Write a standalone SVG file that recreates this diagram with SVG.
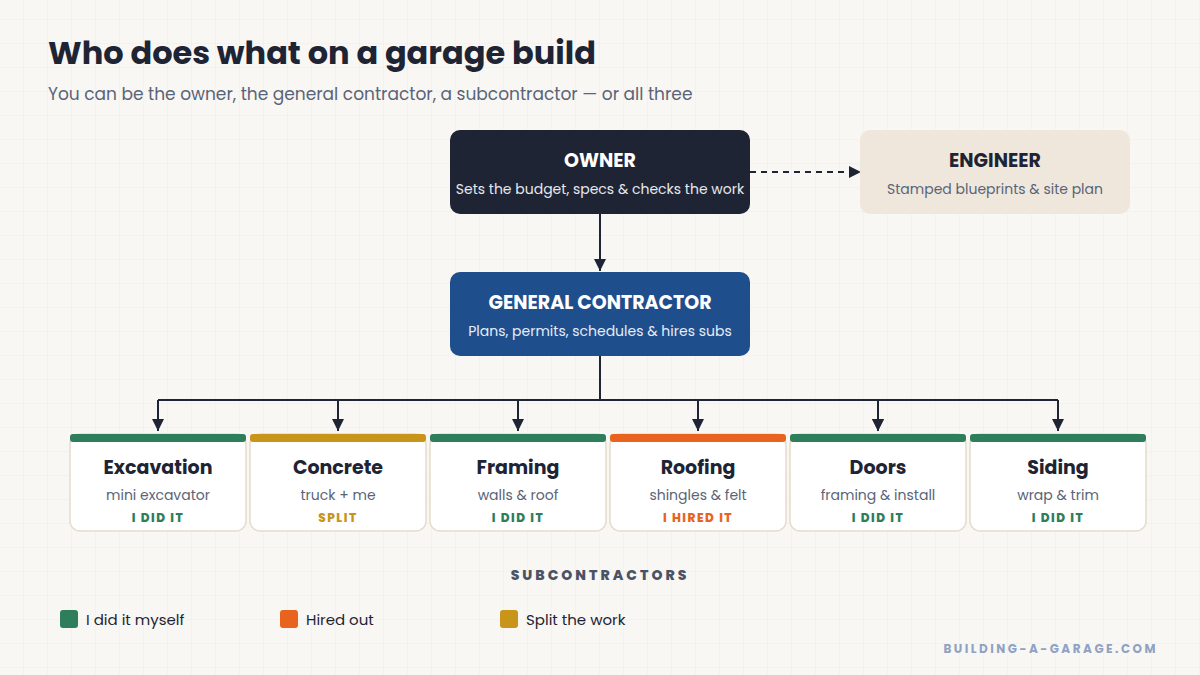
<svg xmlns="http://www.w3.org/2000/svg" width="1200" height="675" viewBox="0 0 1200 675">
<defs>
<pattern id="grid" width="24" height="24" patternUnits="userSpaceOnUse" x="0" y="-4"><path d="M24 0V24M0 24H24" fill="none" stroke="#efece6" stroke-width="1"/></pattern>
<marker id="ah" markerWidth="14" markerHeight="14" refX="12" refY="6" orient="auto" markerUnits="userSpaceOnUse"><path d="M0 0L12 6L0 12Z" fill="#1e2433"/></marker>
<style>
text{font-family:Poppins,Inter,"Noto Sans",sans-serif}
.t{font-weight:700;font-size:19px;fill:#1e2433;text-anchor:middle}
.s{font-size:14px;fill:#5a6478;text-anchor:middle}
.b{font-weight:800;font-size:12px;letter-spacing:1.5px;text-anchor:middle}
.card{fill:#fff;stroke:#e6dccb;stroke-width:1.5}
.c{fill:none;stroke:#1e2433;stroke-width:2}
</style>
</defs>
<rect width="1200" height="675" fill="#f9f7f3"/>
<rect width="1200" height="675" fill="url(#grid)"/>
<text x="48" y="64" font-size="32" font-weight="700" fill="#1e2433">Who does what on a garage build</text>
<text x="48" y="100" font-size="17" fill="#5a6478">You can be the owner, the general contractor, a subcontractor — or all three</text>
<g id="connectors">
<path class="c" d="M600 214V271" marker-end="url(#ah)"/>
<path class="c" d="M750 172H861" stroke-dasharray="6 5" marker-end="url(#ah)"/>
<path class="c" d="M600 356V400M158 400H1058M158 400V431M338 400V431M518 400V431M698 400V431M878 400V431M1058 400V431" marker-end="url(#ah)"/>
<path class="c" d="M158 400V431M338 400V431M518 400V431M698 400V431M878 400V431" marker-end="url(#ah)"/>
<path class="c" d="M158 400V431" marker-end="url(#ah)"/><path class="c" d="M338 400V431" marker-end="url(#ah)"/><path class="c" d="M518 400V431" marker-end="url(#ah)"/><path class="c" d="M698 400V431" marker-end="url(#ah)"/><path class="c" d="M878 400V431" marker-end="url(#ah)"/>
</g>
<g id="owner"><rect x="450" y="130" width="300" height="84" rx="10" fill="#1e2433"/>
<text x="600" y="167" font-size="19" font-weight="700" fill="#fff" text-anchor="middle">OWNER</text>
<text x="600" y="194" font-size="14" fill="#e6e8ee" text-anchor="middle">Sets the budget, specs &amp; checks the work</text></g>
<g id="engineer"><rect x="860" y="130" width="270" height="84" rx="10" fill="#efe7dc"/>
<text x="995" y="167" font-size="19" font-weight="700" fill="#1e2433" text-anchor="middle">ENGINEER</text>
<text x="995" y="194" font-size="14" fill="#5a6478" text-anchor="middle">Stamped blueprints &amp; site plan</text></g>
<g id="gc"><rect x="450" y="272" width="300" height="84" rx="10" fill="#1f4e8c"/>
<text x="600" y="309" font-size="19" font-weight="700" fill="#fff" text-anchor="middle">GENERAL CONTRACTOR</text>
<text x="600" y="336" font-size="14" fill="#e6ecf6" text-anchor="middle">Plans, permits, schedules &amp; hires subs</text></g>
<g id="excavation"><rect class="card" x="70" y="434" width="176" height="97" rx="10"/><rect x="70" y="434" width="176" height="8" rx="3" fill="#2e7d5b"/>
<text class="t" x="158" y="474">Excavation</text><text class="s" x="158" y="500">mini excavator</text><text class="b" x="158" y="522" fill="#2e7d5b">I DID IT</text></g>
<g id="concrete"><rect class="card" x="250" y="434" width="176" height="97" rx="10"/><rect x="250" y="434" width="176" height="8" rx="3" fill="#c89419"/>
<text class="t" x="338" y="474">Concrete</text><text class="s" x="338" y="500">truck + me</text><text class="b" x="338" y="522" fill="#c89419">SPLIT</text></g>
<g id="framing"><rect class="card" x="430" y="434" width="176" height="97" rx="10"/><rect x="430" y="434" width="176" height="8" rx="3" fill="#2e7d5b"/>
<text class="t" x="518" y="474">Framing</text><text class="s" x="518" y="500">walls &amp; roof</text><text class="b" x="518" y="522" fill="#2e7d5b">I DID IT</text></g>
<g id="roofing"><rect class="card" x="610" y="434" width="176" height="97" rx="10"/><rect x="610" y="434" width="176" height="8" rx="3" fill="#e8641e"/>
<text class="t" x="698" y="474">Roofing</text><text class="s" x="698" y="500">shingles &amp; felt</text><text class="b" x="698" y="522" fill="#e8641e">I HIRED IT</text></g>
<g id="doors"><rect class="card" x="790" y="434" width="176" height="97" rx="10"/><rect x="790" y="434" width="176" height="8" rx="3" fill="#2e7d5b"/>
<text class="t" x="878" y="474">Doors</text><text class="s" x="878" y="500">framing &amp; install</text><text class="b" x="878" y="522" fill="#2e7d5b">I DID IT</text></g>
<g id="siding"><rect class="card" x="970" y="434" width="176" height="97" rx="10"/><rect x="970" y="434" width="176" height="8" rx="3" fill="#2e7d5b"/>
<text class="t" x="1058" y="474">Siding</text><text class="s" x="1058" y="500">wrap &amp; trim</text><text class="b" x="1058" y="522" fill="#2e7d5b">I DID IT</text></g>
<text x="600" y="580" font-size="14" font-weight="800" letter-spacing="3" fill="#4a5366" text-anchor="middle">SUBCONTRACTORS</text>
<g id="legend">
<rect x="60" y="610" width="18" height="18" rx="3" fill="#2e7d5b"/><text x="86" y="625" font-size="15" fill="#1e2433">I did it myself</text>
<rect x="280" y="610" width="18" height="18" rx="3" fill="#e8641e"/><text x="306" y="625" font-size="15" fill="#1e2433">Hired out</text>
<rect x="500" y="610" width="18" height="18" rx="3" fill="#c89419"/><text x="526" y="625" font-size="15" fill="#1e2433">Split the work</text>
</g>
<text x="1158" y="653" font-size="12" font-weight="700" letter-spacing="2.5" fill="#8ea3c4" text-anchor="end">BUILDING-A-GARAGE.COM</text>
</svg>
